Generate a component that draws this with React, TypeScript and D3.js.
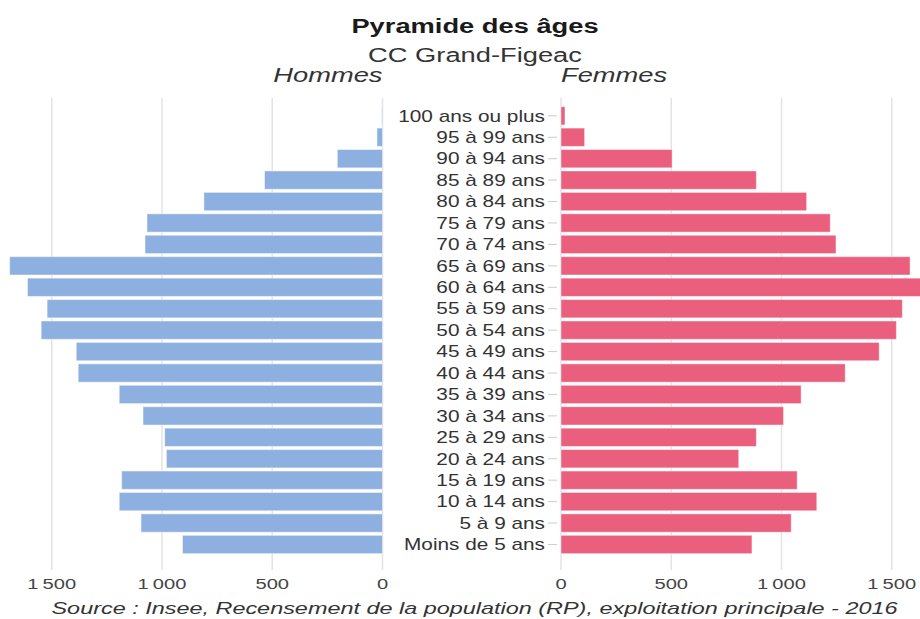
import React from 'react';
import * as d3 from 'd3';

// Age groups, top to bottom
const ageGroups = [
  '100 ans ou plus', '95 à 99 ans', '90 à 94 ans', '85 à 89 ans', '80 à 84 ans',
  '75 à 79 ans', '70 à 74 ans', '65 à 69 ans', '60 à 64 ans', '55 à 59 ans',
  '50 à 54 ans', '45 à 49 ans', '40 à 44 ans', '35 à 39 ans', '30 à 34 ans',
  '25 à 29 ans', '20 à 24 ans', '15 à 19 ans', '10 à 14 ans', '5 à 9 ans',
  'Moins de 5 ans',
];

const hommes = [
  3, 25, 205, 535, 810, 1068, 1077, 1691, 1610, 1521, 1548,
  1389, 1380, 1194, 1086, 988, 980, 1183, 1194, 1095, 907,
];

const femmes = [
  18, 107, 504, 886, 1114, 1221, 1247, 1583, 1660, 1548, 1521,
  1443, 1289, 1089, 1009, 886, 806, 1071, 1160, 1044, 866,
];

const tickValues = [0, 500, 1000, 1500];
const tickFormat = (v: number) => (v >= 1000 ? `${Math.floor(v / 1000)}\u202f${String(v % 1000).padStart(3, '0')}` : `${v}`);

const width = 920;
const height = 619;
const SX = 1.3; // text is drawn a little wide
const font = '"Liberation Sans", Arial, sans-serif';
const blue = '#8eb0e0';
const pink = '#eb5f7e';

const T: React.FC<{ x: number; y: number; anchor?: string; size: number; weight?: string; italic?: boolean; fill?: string; dy?: string; sx?: number; children: React.ReactNode }> =
  ({ x, y, anchor = 'middle', size, weight = 'normal', italic = false, fill = '#333', dy, sx = SX, children }) => (
    <text
      transform={`translate(${x},${y}) scale(${sx},1)`}
      textAnchor={anchor}
      fontSize={size}
      fontWeight={weight}
      fontStyle={italic ? 'italic' : 'normal'}
      fill={fill}
      dy={dy}
    >
      {children}
    </text>
  );

const App: React.FC = () => {
  const y = d3.scaleBand<string>().domain(ageGroups).range([105.1, 555.2]).paddingInner(0.146).paddingOuter(0.073);
  const xLeft = d3.scaleLinear().domain([0, 1700]).range([382.5, 382.5 - 1700 * 0.2205]);
  const xRight = d3.scaleLinear().domain([0, 1700]).range([561, 561 + 1700 * 0.2205]);

  const gridTop = 98;
  const gridBottom = 570;

  return (
    <div style={{ position: 'absolute', left: 0, top: 0, width, height, overflow: 'hidden', background: '#fff' }}>
      <svg width={width} height={height} style={{ display: 'block', fontFamily: font }}>
        {/* gridlines */}
        {tickValues.map(t => (
          <g key={t}>
            <line x1={xLeft(t)} x2={xLeft(t)} y1={gridTop} y2={gridBottom} stroke="#e3e3e3" strokeWidth={1.5} />
            <line x1={xRight(t)} x2={xRight(t)} y1={gridTop} y2={gridBottom} stroke="#e3e3e3" strokeWidth={1.5} />
          </g>
        ))}

        {/* bars */}
        {ageGroups.map((g, i) => (
          <g key={g}>
            <rect
              x={xLeft(hommes[i])}
              y={y(g)!}
              width={xLeft(0) - xLeft(hommes[i])}
              height={y.bandwidth()}
              fill={blue}
              stroke="#fff"
              strokeOpacity={0.45}
              strokeWidth={1}
            />
            <rect
              x={xRight(0)}
              y={y(g)!}
              width={xRight(femmes[i]) - xRight(0)}
              height={y.bandwidth()}
              fill={pink}
              stroke="#fff"
              strokeOpacity={0.45}
              strokeWidth={1}
            />
            <line x1={548} x2={557} y1={y(g)! + y.bandwidth() / 2} y2={y(g)! + y.bandwidth() / 2} stroke="#ccc" strokeWidth={1} />
            <T x={545} y={y(g)! + y.bandwidth() / 2} anchor="end" size={16} dy="0.36em" fill="#333">{g}</T>
          </g>
        ))}

        {/* axis tick labels */}
        {tickValues.map(t => (
          <g key={`l${t}`}>
            <T x={xLeft(t)} y={589} size={15.5} fill="#444">{tickFormat(t)}</T>
            <T x={xRight(t)} y={589} size={15.5} fill="#444">{tickFormat(t)}</T>
          </g>
        ))}

        {/* titles */}
        <T x={475} y={33} size={21} weight="bold" fill="#1a1a1a">Pyramide des âges</T>
        <T x={475} y={62} size={21} fill="#333">CC Grand-Figeac</T>
        <T x={382.5} y={82} anchor="end" size={21} italic fill="#333">Hommes</T>
        <T x={561} y={82} anchor="start" size={21} italic fill="#333">Femmes</T>

        <T x={474.5} y={614} size={16.5} sx={1.42} italic fill="#333">
          Source : Insee, Recensement de la population (RP), exploitation principale - 2016
        </T>
      </svg>
    </div>
  );
};

export default App;
